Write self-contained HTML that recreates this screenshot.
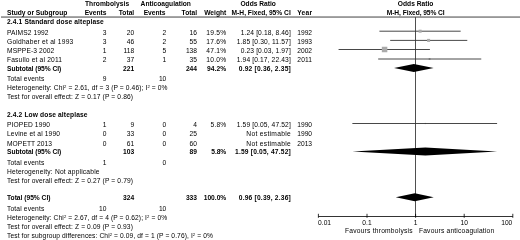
<!DOCTYPE html>
<html><head><meta charset="utf-8"><title>Forest plot</title>
<style>
html,body{margin:0;padding:0;background:#fff;}
body{width:520px;height:240px;overflow:hidden;}
svg{display:block;font-family:"Liberation Sans",Arial,sans-serif;font-size:6.67px;fill:#000;}
</style></head><body>
<svg width="520" height="240" viewBox="0 0 520 240">
<rect width="520" height="240" fill="#fff"/>
<g>
<line x1="1" y1="17.05" x2="520" y2="17.05" stroke="#111" stroke-width="0.8"/>
<line x1="415.5" y1="17.2" x2="415.5" y2="216.5" stroke="#222" stroke-width="0.8"/>
<line x1="318.40000000000003" y1="216.5" x2="512.8000000000001" y2="216.5" stroke="#000" stroke-width="0.8"/>
<line x1="318.40" y1="213.8" x2="318.40" y2="217.8" stroke="#000" stroke-width="0.8"/>
<line x1="367.00" y1="213.8" x2="367.00" y2="217.8" stroke="#000" stroke-width="0.8"/>
<line x1="415.60" y1="213.8" x2="415.60" y2="217.8" stroke="#000" stroke-width="0.8"/>
<line x1="464.20" y1="213.8" x2="464.20" y2="217.8" stroke="#000" stroke-width="0.8"/>
<line x1="512.80" y1="213.8" x2="512.80" y2="217.8" stroke="#000" stroke-width="0.8"/>
<line x1="379.41" y1="31.2" x2="460.67" y2="31.2" stroke="#333" stroke-width="0.9"/>
<rect x="418.64" y="29.70" width="3" height="3" fill="#aaa"/>
<line x1="390.19" y1="40.4" x2="467.28" y2="40.4" stroke="#333" stroke-width="0.9"/>
<rect x="427.08" y="38.90" width="3" height="3" fill="#aaa"/>
<line x1="338.57" y1="49.5" x2="429.91" y2="49.5" stroke="#333" stroke-width="0.9"/>
<rect x="381.83" y="46.75" width="5.5" height="5.5" fill="#aaa"/>
<rect x="428.69" y="58.10" width="1.8" height="1.8" fill="#aaa"/>
<line x1="378.20" y1="59.0" x2="481.25" y2="59.0" stroke="#333" stroke-width="0.9"/>
<polygon points="394.04,67.9 413.84,63.900000000000006 433.63,67.9 413.84,71.9" fill="#000"/>
<rect x="424.79" y="122.90" width="1.2" height="1.2" fill="#aaa"/>
<line x1="352.37" y1="123.5" x2="497.10" y2="123.5" stroke="#333" stroke-width="0.9"/>
<polygon points="352.37,151.4 425.39,147.4 497.10,151.4 425.39,155.4" fill="#000"/>
<polygon points="395.73,197.2 414.74,193.2 433.72,197.2 414.74,201.2" fill="#000"/>
</g>
<g>
<text x="84.90" y="5.80" font-weight="bold" textLength="44.20">Thrombolysis</text>
<text x="140.60" y="5.80" font-weight="bold">Anticoagulation</text>
<text x="258.20" y="5.80" text-anchor="middle" font-weight="bold">Odds Ratio</text>
<text x="415.60" y="5.80" text-anchor="middle" font-weight="bold">Odds Ratio</text>
<text x="7.00" y="15.00" font-weight="bold">Study or Subgroup</text>
<text x="106.50" y="15.00" text-anchor="end" font-weight="bold">Events</text>
<text x="134.20" y="15.00" text-anchor="end" font-weight="bold">Total</text>
<text x="165.50" y="15.00" text-anchor="end" font-weight="bold">Events</text>
<text x="197.00" y="15.00" text-anchor="end" font-weight="bold">Total</text>
<text x="226.25" y="15.00" text-anchor="end" font-weight="bold">Weight</text>
<text x="290.75" y="15.00" text-anchor="end" font-weight="bold">M-H, Fixed, 95% CI</text>
<text x="297.30" y="15.00" font-weight="bold" textLength="14.80">Year</text>
<text x="415.70" y="15.00" text-anchor="middle" font-weight="bold" textLength="57.90">M-H, Fixed, 95% CI</text>
<text x="7.00" y="24.20" font-weight="bold" textLength="96.75">2.4.1 Standard dose alteplase</text>
<text x="7.00" y="34.50" textLength="41.50">PAIMS2 1992</text>
<text x="106.50" y="34.50" text-anchor="end">3</text>
<text x="134.20" y="34.50" text-anchor="end">20</text>
<text x="166.30" y="34.50" text-anchor="end">2</text>
<text x="197.00" y="34.50" text-anchor="end">16</text>
<text x="226.25" y="34.50" text-anchor="end" textLength="20.00">19.5%</text>
<text x="290.75" y="34.50" text-anchor="end" textLength="50.00">1.24 [0.18, 8.46]</text>
<text x="297.30" y="34.50" textLength="14.70">1992</text>
<text x="7.00" y="43.90" textLength="66.25">Goldhaber et al 1993</text>
<text x="106.50" y="43.90" text-anchor="end">3</text>
<text x="134.20" y="43.90" text-anchor="end">46</text>
<text x="166.30" y="43.90" text-anchor="end">2</text>
<text x="197.00" y="43.90" text-anchor="end">55</text>
<text x="226.25" y="43.90" text-anchor="end" textLength="20.00">17.6%</text>
<text x="290.75" y="43.90" text-anchor="end" textLength="54.00">1.85 [0.30, 11.57]</text>
<text x="297.30" y="43.90" textLength="14.70">1993</text>
<text x="7.00" y="53.40" textLength="47.25">MSPPE-3 2002</text>
<text x="106.50" y="53.40" text-anchor="end">1</text>
<text x="134.20" y="53.40" text-anchor="end">118</text>
<text x="166.30" y="53.40" text-anchor="end">5</text>
<text x="197.00" y="53.40" text-anchor="end">138</text>
<text x="226.25" y="53.40" text-anchor="end" textLength="20.00">47.1%</text>
<text x="290.75" y="53.40" text-anchor="end" textLength="50.00">0.23 [0.03, 1.97]</text>
<text x="297.30" y="53.40" textLength="14.70">2002</text>
<text x="7.00" y="62.20" textLength="55.00">Fasullo et al 2011</text>
<text x="106.50" y="62.20" text-anchor="end">2</text>
<text x="134.20" y="62.20" text-anchor="end">37</text>
<text x="166.30" y="62.20" text-anchor="end">1</text>
<text x="197.00" y="62.20" text-anchor="end">35</text>
<text x="226.25" y="62.20" text-anchor="end" textLength="20.00">10.0%</text>
<text x="290.75" y="62.20" text-anchor="end" textLength="54.00">1.94 [0.17, 22.43]</text>
<text x="297.30" y="62.20" textLength="14.70">2011</text>
<text x="7.00" y="70.50" font-weight="bold" textLength="54.25">Subtotal (95% CI)</text>
<text x="134.20" y="70.50" text-anchor="end" font-weight="bold">221</text>
<text x="197.00" y="70.50" text-anchor="end" font-weight="bold">244</text>
<text x="226.25" y="70.50" text-anchor="end" font-weight="bold" textLength="19.25">94.2%</text>
<text x="290.75" y="70.50" text-anchor="end" font-weight="bold" textLength="52.00">0.92 [0.36, 2.35]</text>
<text x="7.00" y="81.40" textLength="37.25">Total events</text>
<text x="106.50" y="81.40" text-anchor="end">9</text>
<text x="166.30" y="81.40" text-anchor="end">10</text>
<text x="7.00" y="89.70" textLength="160.50">Heterogeneity: Chi<tspan font-size="4.2" dy="-2.2">2</tspan><tspan dy="2.2"> </tspan>= 2.61, df = 3 (P = 0.46); I<tspan font-size="4.2" dy="-2.2">2</tspan><tspan dy="2.2"> </tspan>= 0%</text>
<text x="7.00" y="99.30" textLength="126.00">Test for overall effect: Z = 0.17 (P = 0.86)</text>
<text x="7.00" y="116.70" font-weight="bold" textLength="80.50">2.4.2 Low dose alteplase</text>
<text x="7.00" y="126.90" textLength="43.00">PIOPED 1990</text>
<text x="106.50" y="126.90" text-anchor="end">1</text>
<text x="134.20" y="126.90" text-anchor="end">9</text>
<text x="166.30" y="126.90" text-anchor="end">0</text>
<text x="197.00" y="126.90" text-anchor="end">4</text>
<text x="226.25" y="126.90" text-anchor="end" textLength="15.75">5.8%</text>
<text x="290.75" y="126.90" text-anchor="end" textLength="54.00">1.59 [0.05, 47.52]</text>
<text x="297.30" y="126.90" textLength="14.70">1990</text>
<text x="7.00" y="136.10" textLength="53.00">Levine et al 1990</text>
<text x="106.50" y="136.10" text-anchor="end">0</text>
<text x="134.20" y="136.10" text-anchor="end">33</text>
<text x="166.30" y="136.10" text-anchor="end">0</text>
<text x="197.00" y="136.10" text-anchor="end">25</text>
<text x="290.75" y="136.10" text-anchor="end" textLength="44.50">Not estimable</text>
<text x="297.30" y="136.10" textLength="14.70">1990</text>
<text x="7.00" y="145.60" textLength="45.00">MOPETT 2013</text>
<text x="106.50" y="145.60" text-anchor="end">0</text>
<text x="134.20" y="145.60" text-anchor="end">61</text>
<text x="166.30" y="145.60" text-anchor="end">0</text>
<text x="197.00" y="145.60" text-anchor="end">60</text>
<text x="290.75" y="145.60" text-anchor="end" textLength="44.50">Not estimable</text>
<text x="297.30" y="145.60" textLength="14.70">2013</text>
<text x="7.00" y="153.90" font-weight="bold" textLength="54.25">Subtotal (95% CI)</text>
<text x="134.20" y="153.90" text-anchor="end" font-weight="bold">103</text>
<text x="197.00" y="153.90" text-anchor="end" font-weight="bold">89</text>
<text x="226.25" y="153.90" text-anchor="end" font-weight="bold" textLength="15.00">5.8%</text>
<text x="290.75" y="153.90" text-anchor="end" font-weight="bold" textLength="55.75">1.59 [0.05, 47.52]</text>
<text x="7.00" y="164.80" textLength="37.25">Total events</text>
<text x="106.50" y="164.80" text-anchor="end">1</text>
<text x="166.30" y="164.80" text-anchor="end">0</text>
<text x="7.00" y="173.70" textLength="92.50">Heterogeneity: Not applicable</text>
<text x="7.00" y="182.50" textLength="126.00">Test for overall effect: Z = 0.27 (P = 0.79)</text>
<text x="7.00" y="200.40" font-weight="bold" textLength="43.50">Total (95% CI)</text>
<text x="134.20" y="200.40" text-anchor="end" font-weight="bold">324</text>
<text x="197.00" y="200.40" text-anchor="end" font-weight="bold">333</text>
<text x="226.25" y="200.40" text-anchor="end" font-weight="bold" textLength="22.50">100.0%</text>
<text x="290.75" y="200.40" text-anchor="end" font-weight="bold" textLength="52.00">0.96 [0.39, 2.36]</text>
<text x="7.00" y="210.70" textLength="37.25">Total events</text>
<text x="106.50" y="210.70" text-anchor="end">10</text>
<text x="166.30" y="210.70" text-anchor="end">10</text>
<text x="7.00" y="220.10" textLength="160.10">Heterogeneity: Chi<tspan font-size="4.2" dy="-2.2">2</tspan><tspan dy="2.2"> </tspan>= 2.67, df = 4 (P = 0.62); I<tspan font-size="4.2" dy="-2.2">2</tspan><tspan dy="2.2"> </tspan>= 0%</text>
<text x="7.00" y="228.80" textLength="125.90">Test for overall effect: Z = 0.09 (P = 0.93)</text>
<text x="7.00" y="237.80" textLength="205.90">Test for subgroup differences: Chi<tspan font-size="4.2" dy="-2.2">2</tspan><tspan dy="2.2"> </tspan>= 0.09, df = 1 (P = 0.76), I<tspan font-size="4.2" dy="-2.2">2</tspan><tspan dy="2.2"> </tspan>= 0%</text>
<text x="318.10" y="224.50">0.01</text>
<text x="367.00" y="224.50" text-anchor="middle">0.1</text>
<text x="415.60" y="224.50" text-anchor="middle">1</text>
<text x="464.20" y="224.50" text-anchor="middle">10</text>
<text x="512.30" y="224.50" text-anchor="end">100</text>
<text x="412.60" y="232.50" text-anchor="end" textLength="67.70">Favours thrombolysis</text>
<text x="418.90" y="232.50" textLength="75.30">Favours anticoagulation</text>
</g>
</svg>
</body></html>
